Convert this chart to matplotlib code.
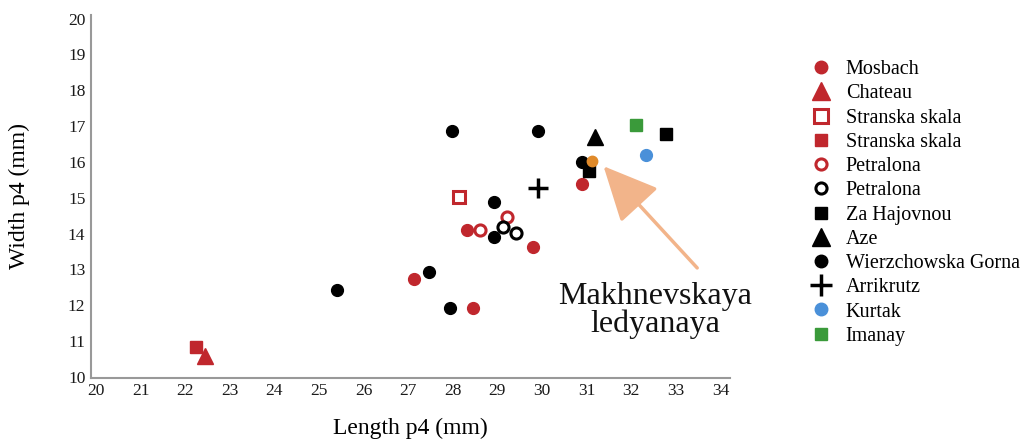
import matplotlib
matplotlib.use("Agg")
import matplotlib.pyplot as plt
from matplotlib.lines import Line2D

plt.rcParams['font.family'] = ['Liberation Serif', 'DejaVu Serif']

# values (length, width in mm)
mosbach_x = [30.9, 28.32, 29.81, 27.12, 28.45]
mosbach_y = [15.39, 14.11, 13.63, 12.73, 11.91]
chateau_x = [22.45]
chateau_y = [10.57]
stranska_open_x = [28.13]
stranska_open_y = [15.02]
stranska_fill_x = [22.24]
stranska_fill_y = [10.82]
petralona_red_x = [29.21, 28.6]
petralona_red_y = [14.45, 14.09]
petralona_blk_x = [29.12, 29.42]
petralona_blk_y = [14.17, 14.02]
hajovnou_x = [32.78, 31.05]
hajovnou_y = [16.79, 15.75]
aze_x = [31.2]
aze_y = [16.69]
wierz_x = [27.98, 29.92, 30.9, 28.93, 28.93, 27.46, 27.93, 25.4]
wierz_y = [16.86, 16.86, 16.0, 14.88, 13.89, 12.93, 11.91, 12.42]
arrik_x = [29.92]
arrik_y = [15.28]
kurtak_x = [32.34]
kurtak_y = [16.18]
imanay_x = [32.11]
imanay_y = [17.04]
makh_x = [31.13]
makh_y = [16.03]

RED = '#c0272d'
BLUE = '#4a90d9'
GREEN = '#3a9a3a'
ORANGE = '#e08a2a'
PEACH = '#f2b48a'

fig = plt.figure(figsize=(10.26, 4.41), dpi=100)
ax = fig.add_axes([0.0887, 0.143, 0.623, 0.823])

ms = 8.5
ax.plot(wierz_x, wierz_y, 'o', color='black', ms=ms, ls='none')
ax.plot(mosbach_x, mosbach_y, 'o', color=RED, ms=ms, ls='none')
ax.plot(chateau_x, chateau_y, '^', color=RED, ms=11, ls='none')
ax.plot(stranska_fill_x, stranska_fill_y, 's', color=RED, ms=8.5, ls='none')
ax.plot(stranska_open_x, stranska_open_y, 's', mfc='white', mec=RED, mew=2.2, ms=8, ls='none')
ax.plot(petralona_red_x, petralona_red_y, 'o', mfc='white', mec=RED, mew=2.2, ms=8, ls='none')
ax.plot(petralona_blk_x, petralona_blk_y, 'o', mfc='white', mec='black', mew=2.2, ms=8, ls='none')
ax.plot(hajovnou_x, hajovnou_y, 's', color='black', ms=8.5, ls='none')
ax.plot(aze_x, aze_y, '^', color='black', ms=11, ls='none')
ax.plot(arrik_x, arrik_y, '+', color='black', ms=14, mew=2.5, ls='none')
ax.plot(kurtak_x, kurtak_y, 'o', color=BLUE, ms=ms, ls='none')
ax.plot(imanay_x, imanay_y, 's', color=GREEN, ms=8.5, ls='none')
ax.plot(makh_x, makh_y, 'o', color=ORANGE, ms=7.5, ls='none')

# arrow pointing to the Makhnevskaya ledyanaya find
ax.annotate('', xy=(31.38, 15.88), xytext=(33.48, 13.04),
            arrowprops=dict(arrowstyle='-|>,head_length=1.7,head_width=0.8',
                            color=PEACH, lw=2.5, mutation_scale=20,
                            shrinkA=0, shrinkB=0))
ax.text(32.54, 11.85, 'Makhnevskaya\nledyanaya', ha='center', va='center',
        fontsize=23, linespacing=0.95, color='#111111', clip_on=False)

ax.set_xlim(19.89, 34.22)
ax.set_ylim(9.97, 20.1)
ax.set_xticks(range(20, 35))
ax.set_yticks(range(10, 21))
ax.tick_params(length=0, labelsize=12.5, colors='#1a1a1a', pad=4)
for s in ['top', 'right']:
    ax.spines[s].set_visible(False)
for s in ['left', 'bottom']:
    ax.spines[s].set_color('#999999')
    ax.spines[s].set_linewidth(1.5)

ax.set_xlabel('Length p4 (mm)', fontsize=17, labelpad=13)
ax.set_ylabel('Width p4 (mm)', fontsize=17, labelpad=27)

handles = [
    Line2D([], [], marker='o', color=RED, ls='none', ms=9),
    Line2D([], [], marker='^', color=RED, ls='none', ms=13),
    Line2D([], [], marker='s', mfc='white', mec=RED, mew=2.2, ls='none', ms=10),
    Line2D([], [], marker='s', color=RED, ls='none', ms=9),
    Line2D([], [], marker='o', mfc='white', mec=RED, mew=2.2, ls='none', ms=8),
    Line2D([], [], marker='o', mfc='white', mec='black', mew=2.2, ls='none', ms=8),
    Line2D([], [], marker='s', color='black', ls='none', ms=9),
    Line2D([], [], marker='^', color='black', ls='none', ms=13),
    Line2D([], [], marker='o', color='black', ls='none', ms=9),
    Line2D([], [], marker='+', color='black', ls='none', ms=16, mew=2.5),
    Line2D([], [], marker='o', color=BLUE, ls='none', ms=9),
    Line2D([], [], marker='s', color=GREEN, ls='none', ms=9),
]
labels = ['Mosbach', 'Chateau', 'Stranska skala', 'Stranska skala', 'Petralona',
          'Petralona', 'Za Hajovnou', 'Aze', 'Wierzchowska Gorna', 'Arrikrutz',
          'Kurtak', 'Imanay']
fig.legend(handles, labels, loc='upper left', bbox_to_anchor=(0.783, 0.882),
           frameon=False, fontsize=14.5, labelspacing=0.255, handlelength=1.0,
           handletextpad=0.7, borderaxespad=0)

fig.savefig('out.png', dpi=100, facecolor='white')
